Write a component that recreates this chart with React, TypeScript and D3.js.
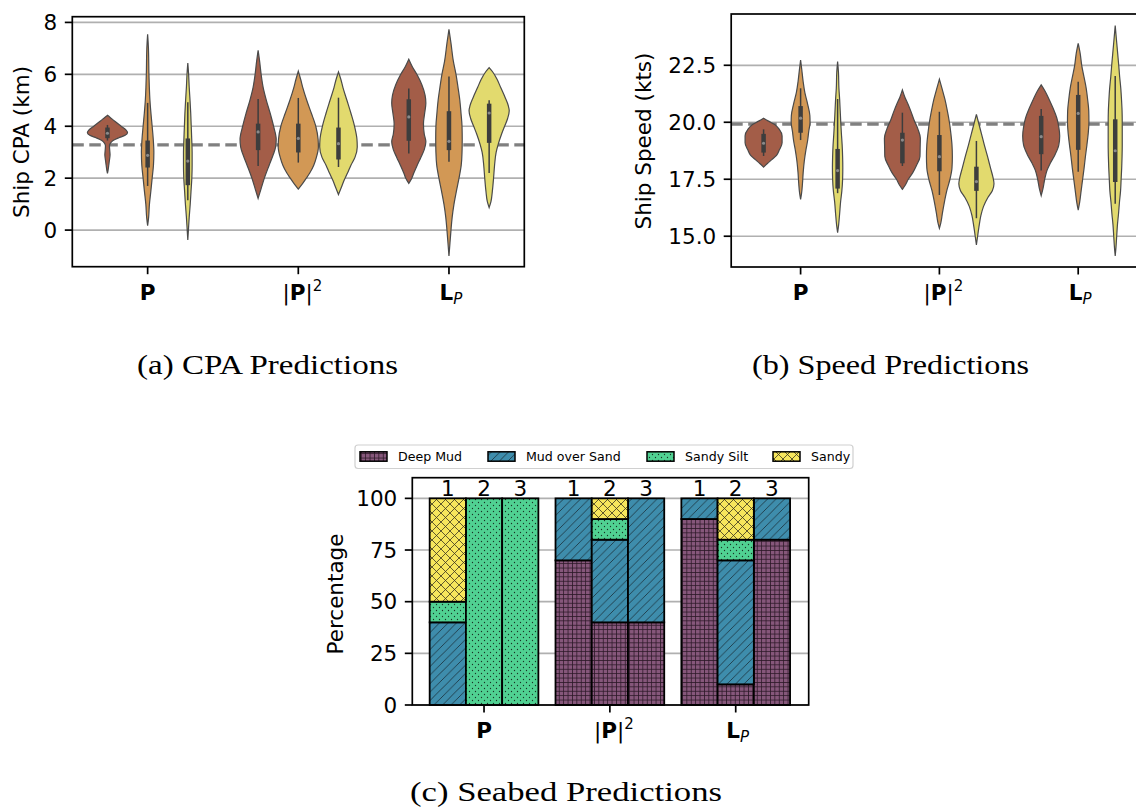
import React from "react";
import * as d3 from "d3";

// ---------------- DATA ----------------
const groupNames = ["P", "|P|2", "LP"];
const hueColors = ["#a35d48", "#d29855", "#e2da6e"];

const cpaTicks = [0, 2, 4, 6, 8];
const speedTicks = [15, 17.5, 20, 22.5];
const pctTicks = [0, 25, 50, 75, 100];
const cpaReference = 3.28;
const speedReference = 19.92;

// CPA violin outlines: [value (km), relative half-width]
const cpaP1 = [[4.42, 0], [4.35, 0.12], [4.2, 0.35], [4.0, 0.68], [3.85, 0.93], [3.76, 1.0], [3.65, 0.88], [3.55, 0.55], [3.45, 0.28], [3.35, 0.15], [3.25, 0.1], [3.1, 0.11], [2.9, 0.13], [2.7, 0.1], [2.5, 0.065], [2.3, 0.03], [2.18, 0]];
const cpaP2 = [[7.54, 0], [7.0, 0.04], [6.0, 0.065], [5.5, 0.085], [5.0, 0.115], [4.5, 0.165], [4.0, 0.225], [3.5, 0.28], [3.0, 0.31], [2.5, 0.29], [2.0, 0.225], [1.5, 0.16], [1.0, 0.09], [0.5, 0.05], [0.17, 0]];
const cpaP3 = [[6.43, 0], [6.0, 0.04], [5.5, 0.07], [5.0, 0.11], [4.5, 0.145], [4.0, 0.17], [3.5, 0.195], [3.0, 0.215], [2.5, 0.215], [2.0, 0.2], [1.5, 0.16], [1.0, 0.12], [0.5, 0.07], [0.0, 0.03], [-0.38, 0]];
const cpaQ1 = [[6.92, 0], [6.5, 0.075], [6.0, 0.15], [5.5, 0.25], [5.0, 0.41], [4.5, 0.6], [4.0, 0.77], [3.5, 0.9], [3.2, 0.87], [2.9, 0.75], [2.5, 0.55], [2.0, 0.31], [1.6, 0.15], [1.22, 0]];
const cpaQ2 = [[6.12, 0], [5.8, 0.12], [5.5, 0.22], [5.0, 0.42], [4.5, 0.65], [4.0, 0.87], [3.5, 0.985], [3.2, 1.0], [2.8, 0.9], [2.5, 0.77], [2.2, 0.57], [2.0, 0.4], [1.8, 0.22], [1.58, 0]];
const cpaQ3 = [[6.09, 0], [5.8, 0.12], [5.5, 0.22], [5.0, 0.42], [4.5, 0.62], [4.0, 0.8], [3.5, 0.92], [3.2, 0.935], [2.8, 0.82], [2.5, 0.62], [2.2, 0.45], [1.9, 0.27], [1.6, 0.12], [1.37, 0]];
const cpaL1 = [[6.58, 0], [6.3, 0.17], [6.0, 0.4], [5.6, 0.65], [5.2, 0.81], [4.9, 0.85], [4.5, 0.79], [4.1, 0.73], [3.7, 0.77], [3.4, 0.85], [3.1, 0.77], [2.8, 0.6], [2.5, 0.42], [2.2, 0.25], [2.0, 0.15], [1.8, 0]];
const cpaL2 = [[7.73, 0], [7.2, 0.1], [6.5, 0.22], [6.0, 0.35], [5.5, 0.45], [5.0, 0.54], [4.5, 0.6], [4.0, 0.65], [3.5, 0.66], [3.0, 0.65], [2.5, 0.61], [2.0, 0.5], [1.5, 0.37], [1.0, 0.25], [0.5, 0.16], [0.0, 0.1], [-0.5, 0.05], [-1.0, 0]];
const cpaL3 = [[6.26, 0], [6.1, 0.17], [5.8, 0.4], [5.5, 0.57], [5.1, 0.8], [4.8, 0.95], [4.6, 1.0], [4.3, 0.92], [4.0, 0.77], [3.7, 0.62], [3.3, 0.45], [3.0, 0.35], [2.5, 0.27], [2.0, 0.22], [1.5, 0.16], [1.1, 0.09], [0.87, 0]];
const cpaViolins = [cpaP1, cpaP2, cpaP3, cpaQ1, cpaQ2, cpaQ3, cpaL1, cpaL2, cpaL3];
// [whisker low, q1, median, q3, whisker high]
const cpaBoxes = [
  [3.45, 3.54, 3.73, 3.95, 4.05], [1.7, 2.41, 2.88, 3.45, 4.9], [1.15, 1.73, 2.66, 3.53, 4.92],
  [2.47, 3.08, 3.78, 4.1, 5.05], [2.6, 2.99, 3.53, 4.1, 5.09], [2.43, 2.72, 3.33, 3.95, 5.1],
  [2.95, 3.44, 4.36, 5.04, 5.45], [2.63, 3.08, 3.42, 4.58, 5.92], [2.2, 3.36, 4.51, 4.87, 5.0],
];

// Speed violin outlines: [value (kts), relative half-width]
const spdP1 = [[20.18, 0], [20.05, 0.27], [19.9, 0.6], [19.7, 0.84], [19.4, 1.0], [19.1, 1.0], [18.8, 0.86], [18.55, 0.7], [18.35, 0.43], [18.2, 0.22], [18.03, 0]];
const spdP2 = [[22.73, 0], [22.3, 0.065], [21.8, 0.135], [21.3, 0.23], [20.8, 0.38], [20.3, 0.5], [20.0, 0.51], [19.6, 0.44], [19.2, 0.38], [18.8, 0.29], [18.3, 0.2], [17.8, 0.14], [17.3, 0.1], [16.9, 0.055], [16.62, 0]];
const spdP3 = [[22.66, 0], [22.2, 0.045], [21.5, 0.07], [21.0, 0.11], [20.5, 0.14], [20.0, 0.17], [19.5, 0.205], [19.0, 0.245], [18.5, 0.27], [18.0, 0.28], [17.5, 0.27], [17.0, 0.23], [16.5, 0.16], [16.0, 0.11], [15.5, 0.055], [15.16, 0]];
const spdQ1 = [[21.42, 0], [21.1, 0.135], [20.8, 0.3], [20.5, 0.45], [20.1, 0.63], [19.7, 0.84], [19.3, 0.97], [18.9, 0.96], [18.5, 0.95], [18.1, 0.76], [17.8, 0.57], [17.5, 0.32], [17.25, 0.16], [17.06, 0]];
const spdQ2 = [[21.89, 0], [21.5, 0.135], [21.0, 0.3], [20.5, 0.43], [20.0, 0.54], [19.5, 0.62], [19.0, 0.68], [18.5, 0.7], [18.0, 0.68], [17.5, 0.57], [17.0, 0.4], [16.5, 0.27], [16.0, 0.16], [15.6, 0.08], [15.35, 0]];
const spdQ3 = [[20.35, 0], [20.0, 0.11], [19.5, 0.27], [19.0, 0.43], [18.5, 0.6], [18.0, 0.76], [17.6, 0.89], [17.3, 0.95], [17.0, 0.86], [16.7, 0.62], [16.3, 0.38], [15.9, 0.24], [15.4, 0.135], [15.0, 0.065], [14.62, 0]];
const spdL1 = [[21.64, 0], [21.35, 0.22], [21.0, 0.43], [20.6, 0.65], [20.2, 0.84], [19.8, 0.95], [19.4, 1.0], [19.0, 0.95], [18.6, 0.76], [18.2, 0.49], [17.9, 0.32], [17.5, 0.19], [17.1, 0.1], [16.78, 0]];
const spdL2 = [[23.46, 0], [23.0, 0.11], [22.5, 0.19], [22.0, 0.31], [21.5, 0.43], [21.0, 0.51], [20.5, 0.57], [20.0, 0.58], [19.5, 0.54], [19.0, 0.47], [18.5, 0.39], [18.0, 0.32], [17.5, 0.24], [17.0, 0.16], [16.5, 0.08], [16.15, 0]];
const spdL3 = [[24.24, 0], [23.5, 0.08], [23.0, 0.135], [22.5, 0.19], [22.0, 0.24], [21.5, 0.3], [21.0, 0.34], [20.5, 0.37], [20.0, 0.38], [19.5, 0.38], [19.0, 0.38], [18.5, 0.37], [18.0, 0.35], [17.5, 0.32], [17.0, 0.29], [16.5, 0.23], [16.0, 0.18], [15.5, 0.12], [15.0, 0.08], [14.5, 0.04], [14.14, 0]];
const speedViolins = [spdP1, spdP2, spdP3, spdQ1, spdQ2, spdQ3, spdL1, spdL2, spdL3];
const speedBoxes = [
  [18.52, 18.67, 19.08, 19.49, 19.69], [19.22, 19.54, 20.18, 20.71, 21.49], [16.89, 17.09, 17.88, 18.83, 21.02],
  [18.08, 18.2, 19.22, 19.54, 20.42], [16.81, 17.85, 18.49, 19.44, 20.46], [15.79, 16.99, 17.4, 18.05, 19.18],
  [17.88, 18.6, 19.37, 20.28, 20.58], [17.83, 18.79, 20.39, 21.2, 21.78], [16.42, 17.38, 18.75, 20.13, 22.03],
];

// Seabed predictions (%), order: P(1,2,3), |P|2(1,2,3), LP(1,2,3)
const seabedClasses = ["Deep Mud", "Mud over Sand", "Sandy Silt", "Sandy"];
const seabedColors = ["#86577b", "#3e8dac", "#50d192", "#f6e65c"];
const barNumbers = ["1", "2", "3"];
const deepMud = [0, 0, 0, 70, 40, 40, 90, 10, 80];
const mudOverSand = [40, 0, 0, 30, 40, 60, 10, 60, 20];
const sandySilt = [10, 100, 100, 0, 10, 0, 0, 10, 0];
const sandy = [50, 0, 0, 0, 10, 0, 0, 20, 0];

const captions = ["(a) CPA Predictions", "(b) Speed Predictions", "(c) Seabed Predictions"];

// ---------------- HELPERS ----------------
const FONT = "DejaVu Sans";
const FS = 21.5;

function GroupLabel({ x, y, idx }: { x: number; y: number; idx: number }) {
  if (idx === 0)
    return (
      <text x={x} y={y} textAnchor="middle" fontFamily={FONT} fontSize={FS} fontWeight="bold">P</text>
    );
  if (idx === 1)
    return (
      <text x={x + 4} y={y} textAnchor="middle" fontFamily={FONT} fontSize={FS}>
        <tspan>|</tspan>
        <tspan fontWeight="bold">P</tspan>
        <tspan>|</tspan>
        <tspan dy={-9} fontSize={15}>2</tspan>
      </text>
    );
  return (
    <text x={x + 2} y={y} textAnchor="middle" fontFamily={FONT} fontSize={FS}>
      <tspan fontWeight="bold">L</tspan>
      <tspan dy={4} fontSize={15} fontStyle="italic">P</tspan>
    </text>
  );
}

type VP = {
  left: number; right: number; top: number; bottom: number;
  yDomain: [number, number]; ticks: number[]; fmt: (v: number) => string;
  violins: number[][][]; boxes: number[][]; ref: number;
  yLabel: string; yLabelX: number; yLabelY: number;
};

function ViolinPanel(p: VP) {
  const x = d3.scaleLinear().domain([-0.5, 2.5]).range([p.left, p.right]);
  const y = d3.scaleLinear().domain(p.yDomain).range([p.bottom, p.top]);
  const hueWidth = 0.8 / 3;
  const halfW = hueWidth / 2;
  return (
    <g>
      {p.ticks.map((t) => (
        <line key={"g" + t} x1={p.left} x2={p.right} y1={y(t)} y2={y(t)} stroke="#b0b0b0" strokeWidth={1.7} />
      ))}
      <line x1={p.left} x2={p.right} y1={y(p.ref)} y2={y(p.ref)} stroke="#808080" strokeWidth={3.2} strokeDasharray="11.5 5.5" />
      {p.violins.map((prof, i) => {
        const g = Math.floor(i / 3);
        const h = i % 3;
        const cx = g + (h - 1) * hueWidth;
        const area = d3
          .area<number[]>()
          .y((d) => y(d[0]))
          .x0((d) => x(cx - d[1] * halfW))
          .x1((d) => x(cx + d[1] * halfW))
          .curve(d3.curveMonotoneY);
        const sorted = [...prof].sort((a, b) => a[0] - b[0]);
        const b = p.boxes[i];
        return (
          <g key={"v" + i}>
            <path d={area(sorted) || ""} fill={hueColors[h]} stroke="#4a4a4a" strokeWidth={1.2} />
            <line x1={x(cx)} x2={x(cx)} y1={y(b[0])} y2={y(b[4])} stroke="#3d3d3d" strokeWidth={1.5} />
            <line x1={x(cx)} x2={x(cx)} y1={y(b[1])} y2={y(b[3])} stroke="#3d3d3d" strokeWidth={4.5} />
            <circle cx={x(cx)} cy={y(b[2])} r={1.6} fill="#8a8a8a" />
          </g>
        );
      })}
      <rect x={p.left} y={p.top} width={p.right - p.left} height={p.bottom - p.top} fill="none" stroke="#000" strokeWidth={1.7} />
      {p.ticks.map((t) => (
        <g key={"t" + t}>
          <line x1={p.left - 7.5} x2={p.left} y1={y(t)} y2={y(t)} stroke="#000" strokeWidth={1.7} />
          <text x={p.left - 15} y={y(t)} dy="0.36em" textAnchor="end" fontFamily={FONT} fontSize={FS}>{p.fmt(t)}</text>
        </g>
      ))}
      {groupNames.map((n, g) => (
        <g key={"x" + g}>
          <line x1={x(g)} x2={x(g)} y1={p.bottom} y2={p.bottom + 7.5} stroke="#000" strokeWidth={1.7} />
          <GroupLabel x={x(g)} y={p.bottom + 33} idx={g} />
        </g>
      ))}
      <text transform={`translate(${p.yLabelX},${p.yLabelY}) rotate(-90)`} dy="0.35em" textAnchor="middle" fontFamily={FONT} fontSize={FS}>{p.yLabel}</text>
    </g>
  );
}

function SeabedPanel() {
  const left = 412.3, right = 808.7, top = 477.7, bottom = 705;
  const x = d3.scaleLinear().domain([-0.57, 2.58]).range([left, right]);
  const y = d3.scaleLinear().domain([0, 110]).range([bottom, top]);
  const bw = 0.288;
  const rows = deepMud.map((_, i) => ({ i, a: deepMud[i], b: mudOverSand[i], c: sandySilt[i], d: sandy[i] }));
  const stack = d3.stack<any>().keys(["a", "b", "c", "d"])(rows);
  const pats = ["hDeep", "hMud", "hSilt", "hSandy"];
  const legendX = [360, 488, 647, 773];
  return (
    <g>
      {pctTicks.map((t) => (
        <line key={"g" + t} x1={left} x2={right} y1={y(t)} y2={y(t)} stroke="#b0b0b0" strokeWidth={1.7} />
      ))}
      {stack.map((layer, k) =>
        layer.map((seg, i) => {
          if (seg[1] - seg[0] <= 0) return null;
          const g = Math.floor(i / 3);
          const h = i % 3;
          const cx = g + (h - 1) * bw;
          return (
            <rect key={k + "-" + i} x={x(cx - bw / 2)} y={y(seg[1])} width={x(cx + bw / 2) - x(cx - bw / 2)} height={y(seg[0]) - y(seg[1])}
              fill={`url(#${pats[k]})`} stroke="#000" strokeWidth={1.8} />
          );
        })
      )}
      {deepMud.map((_, i) => {
        const g = Math.floor(i / 3);
        const h = i % 3;
        const cx = g + (h - 1) * bw;
        return (
          <text key={"n" + i} x={x(cx)} y={y(100) - 2} textAnchor="middle" fontFamily={FONT} fontSize={FS}>{barNumbers[h]}</text>
        );
      })}
      <rect x={left} y={top} width={right - left} height={bottom - top} fill="none" stroke="#000" strokeWidth={1.7} />
      {pctTicks.map((t) => (
        <g key={"t" + t}>
          <line x1={left - 7.5} x2={left} y1={y(t)} y2={y(t)} stroke="#000" strokeWidth={1.7} />
          <text x={left - 15} y={y(t)} dy="0.36em" textAnchor="end" fontFamily={FONT} fontSize={FS}>{t}</text>
        </g>
      ))}
      {groupNames.map((n, g) => (
        <g key={"x" + g}>
          <line x1={x(g)} x2={x(g)} y1={bottom} y2={bottom + 7.5} stroke="#000" strokeWidth={1.7} />
          <GroupLabel x={x(g)} y={bottom + 33} idx={g} />
        </g>
      ))}
      <text transform={`translate(335,594) rotate(-90)`} dy="0.35em" textAnchor="middle" fontFamily={FONT} fontSize={FS}>Percentage</text>
      {/* legend */}
      <rect x={355} y={445} width={498} height={23.5} rx={3} fill="#fff" stroke="#d0d0d0" strokeWidth={1.2} />
      {seabedClasses.map((c, k) => (
        <g key={"l" + k}>
          <rect x={legendX[k]} y={451.8} width={27} height={9.4} fill={`url(#${pats[k]})`} stroke="#000" strokeWidth={1.5} />
          <text x={legendX[k] + 38} y={456.5} dy="0.36em" fontFamily={FONT} fontSize={12.6}>{c}</text>
        </g>
      ))}
    </g>
  );
}

export default function App() {
  return (
    <svg width={1136} height={807} viewBox="0 0 1136 807" style={{ position: "absolute", left: 0, top: 0, background: "#fff" }}>
      <defs>
        <pattern id="hDeep" patternUnits="userSpaceOnUse" width={4.4} height={4.4}>
          <rect width={4.4} height={4.4} fill={seabedColors[0]} />
          <path d="M0,0.4H4.4M0.4,0V4.4" stroke="#2a1626" strokeWidth={0.8} />
        </pattern>
        <pattern id="hMud" patternUnits="userSpaceOnUse" width={8.5} height={8.5}>
          <rect width={8.5} height={8.5} fill={seabedColors[1]} />
          <path d="M0,8.5L8.5,0M-1,1L1,-1M7.5,9.5L9.5,7.5" stroke="#1a2e38" strokeWidth={0.8} />
        </pattern>
        <pattern id="hSilt" patternUnits="userSpaceOnUse" width={6} height={6}>
          <rect width={6} height={6} fill={seabedColors[2]} />
          <circle cx={1.5} cy={1.5} r={0.65} fill="#1a3326" />
          <circle cx={4.5} cy={4.5} r={0.65} fill="#1a3326" />
        </pattern>
        <pattern id="hSandy" patternUnits="userSpaceOnUse" width={9} height={9}>
          <rect width={9} height={9} fill={seabedColors[3]} />
          <path d="M0,9L9,0M-1,1L1,-1M8,10L10,8M0,0L9,9M-1,8L1,10M8,-1L10,1" stroke="#3b3620" strokeWidth={0.8} />
        </pattern>
      </defs>
      <rect width={1136} height={807} fill="#fff" />
      <ViolinPanel left={72.3} right={524.3} top={16.7} bottom={266.7} yDomain={[-1.41, 8.22]} ticks={cpaTicks}
        fmt={(v) => String(v)} violins={cpaViolins} boxes={cpaBoxes} ref={cpaReference}
        yLabel="Ship CPA (km)" yLabelX={21} yLabelY={142} />
      <ViolinPanel left={731.2} right={1147.6} top={14} bottom={267} yDomain={[13.65, 24.75]} ticks={speedTicks}
        fmt={(v) => v.toFixed(1)} violins={speedViolins} boxes={speedBoxes} ref={speedReference}
        yLabel="Ship Speed (kts)" yLabelX={643.5} yLabelY={141} />
      <SeabedPanel />
      <text x={267.5} y={374} textAnchor="middle" fontFamily="Liberation Serif" fontSize={28} textLength={261} lengthAdjust="spacingAndGlyphs">{captions[0]}</text>
      <text x={890.5} y={374} textAnchor="middle" fontFamily="Liberation Serif" fontSize={28} textLength={277} lengthAdjust="spacingAndGlyphs">{captions[1]}</text>
      <text x={566} y={801} textAnchor="middle" fontFamily="Liberation Serif" fontSize={28} textLength={312} lengthAdjust="spacingAndGlyphs">{captions[2]}</text>
    </svg>
  );
}
